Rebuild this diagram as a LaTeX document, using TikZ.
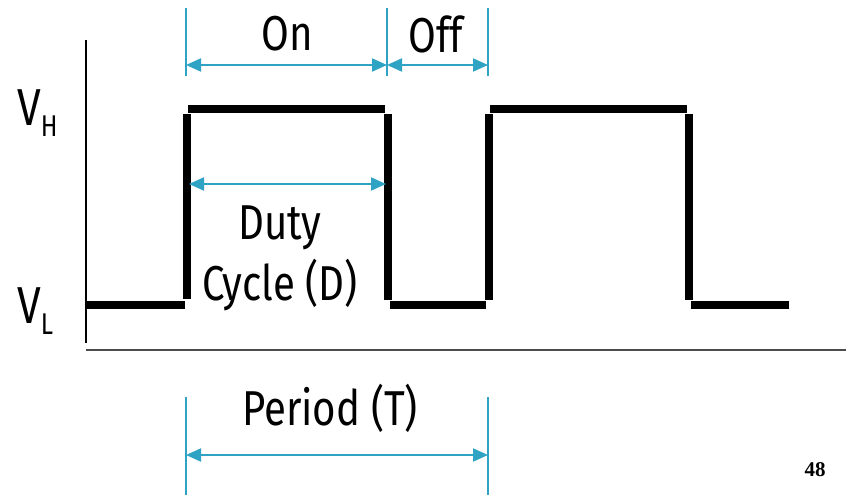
\documentclass[tikz,border=0pt]{standalone}
\usepackage{fontspec}
\setmainfont[FakeStretch=0.82]{Fira Sans}
\newfontfamily\pagenumfont{Liberation Serif}
\usetikzlibrary{arrows.meta}
\definecolor{dimblue}{RGB}{46,163,196}
\tikzset{
  wave/.style={line width=8pt, line cap=butt, black},
  dimline/.style={line width=2pt, dimblue, {Triangle[length=15pt,width=13pt]}-{Triangle[length=15pt,width=13pt]}},
  tick/.style={line width=1.5pt, dimblue},
  lbl/.style={font=\fontsize{49}{61}\selectfont, inner sep=0pt, align=center},
  vlbl/.style={font=\fontsize{52}{52}\selectfont, inner sep=0pt, anchor=base west}
}
\begin{document}
\begin{tikzpicture}[x=1pt,y=-1pt]
\useasboundingbox (0,0) rectangle (846,495);
% axes
\draw[line width=1.2pt, black] (86,40) -- (86,343);
\draw[line width=1.8pt, black!70] (86,350) -- (846,350);
% waveform
\draw[wave] (86,305) -- (185,305);
\draw[wave] (187,114) -- (187,299);
\draw[wave] (188,109) -- (385,109);
\draw[wave] (388,114) -- (388,300);
\draw[wave] (390,305) -- (486,305);
\draw[wave] (489,114) -- (489,300);
\draw[wave] (490,109) -- (687,109);
\draw[wave] (689,114) -- (689,300);
\draw[wave] (691,305) -- (789,305);
% top dimension
\coordinate (t1) at (186,65);
\coordinate (t2) at (387,65);
\coordinate (t3) at (488,65);
\draw[tick] (186,8) -- (186,76);
\draw[tick] (387,8) -- (387,76);
\draw[tick] (488,8) -- (488,76);
\draw[dimline] (t1) -- (t2);
\draw[dimline] (t2) -- (t3);
\node[lbl] (on) at (287,34) {On};
\node[lbl] (off) at (436,34) {Off};
% duty cycle
\coordinate (d1) at (189,184);
\coordinate (d2) at (386,184);
\draw[dimline] (d1) -- (d2);
\node[lbl] (duty) at (280,258) {Duty\\Cycle (D)};
% period
\coordinate (p1) at (186,455);
\coordinate (p2) at (488,455);
\draw[tick] (186,397) -- (186,495);
\draw[tick] (488,397) -- (488,495);
\draw[dimline] (p1) -- (p2);
\node[lbl] (period) at (330,408) {Period (T)};
% level labels
\node[vlbl] (vh) at (17,125) {V\raisebox{-11pt}{\fontsize{30}{30}\selectfont H}};
\node[vlbl] (vl) at (17,323) {V\raisebox{-11pt}{\fontsize{30}{30}\selectfont L}};
% page number
\node[font=\pagenumfont\bfseries\fontsize{21}{21}\selectfont, inner sep=0pt] (pg) at (815,470) {48};
\end{tikzpicture}
\end{document}
